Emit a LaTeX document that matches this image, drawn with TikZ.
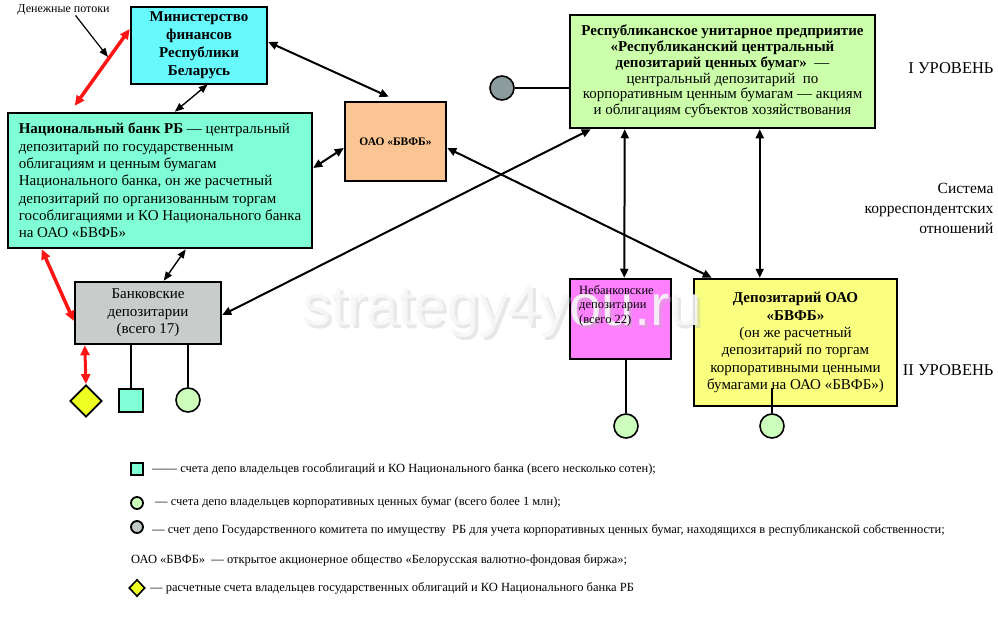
\documentclass[tikz,border=0pt]{standalone}
\usepackage{fontspec}
\setmainfont{Liberation Serif}
\newfontfamily\wmfont{Liberation Sans}
\usetikzlibrary{arrows.meta,calc,shapes.geometric}
\definecolor{cMin}{RGB}{102,250,255}
\definecolor{cNB}{RGB}{128,255,214}
\definecolor{cOAO}{RGB}{250,197,147}
\definecolor{cRep}{RGB}{204,255,170}
\definecolor{cBank}{RGB}{200,204,202}
\definecolor{cNon}{RGB}{255,128,255}
\definecolor{cBV}{RGB}{250,255,128}
\definecolor{cGray}{RGB}{140,156,156}
\definecolor{cGrayL}{RGB}{192,200,200}
\definecolor{cDia}{RGB}{238,255,34}
\definecolor{cCirc}{RGB}{204,255,187}
\definecolor{cRed}{RGB}{255,20,20}
\tikzset{
  box/.style={draw, line width=2.5pt, inner sep=0pt, font=\fontsize{15}{17.5}\selectfont},
  dbl/.style={line width=2pt, {Triangle[length=9pt,width=8pt]}-{Triangle[length=9pt,width=8pt]}},
  dblthin/.style={line width=1.4pt, {Triangle[length=9pt,width=7pt]}-{Triangle[length=9pt,width=7pt]}},
  redarr/.style={draw=cRed, line width=3.5pt, {Triangle[length=10pt,width=9pt]}-{Triangle[length=10pt,width=9pt]}},
  single/.style={line width=1.2pt, -{Triangle[length=9pt,width=7pt]}},
  plain/.style={line width=2pt},
  plainthin/.style={line width=1.1pt},
  acct/.style={circle, draw, line width=1.6pt, fill=cCirc, minimum size=24pt, inner sep=0pt},
  lvl/.style={anchor=east, font=\fontsize{16.5}{20}\selectfont, align=right},
  legtxt/.style={anchor=west, font=\fontsize{12.5}{14}\selectfont, inner sep=0pt},
  wmark/.style={font=\wmfont\fontsize{58}{62}\selectfont},
}
\begin{document}
\begin{tikzpicture}[x=1pt,y=-1pt]
\useasboundingbox (0,0) rectangle (998,624);

% boxes
\node[box, fill=cMin, minimum width=136pt, minimum height=77pt, align=center,
      font=\bfseries\fontsize{15}{18}\selectfont] (min) at (199,45.5)
  {Министерство\\финансов\\Республики\\Беларусь};
\node[box, fill=cNB, minimum width=304pt, minimum height=135pt, align=left,
      font=\fontsize{15}{17.3}\selectfont] (nb) at (160,180.5)
  {\textbf{Национальный банк РБ} — центральный\\депозитарий по государственным\\облигациям и ценным бумагам\\Национального банка, он же расчетный\\депозитарий по организованным торгам\\гособлигациями и КО Национального банка\\на ОАО «БВФБ»};
\node[box, fill=cOAO, minimum width=101pt, minimum height=79pt,
      font=\bfseries\fontsize{11.5}{13}\selectfont] (oao) at (395.5,141.5) {ОАО «БВФБ»};
\node[box, fill=cRep, minimum width=305pt, minimum height=113pt, align=center,
      font=\fontsize{15}{15.8}\selectfont] (rep) at (722.5,71.5)
  {\textbf{Республиканское унитарное предприятие}\\\textbf{«Республиканский центральный}\\\textbf{депозитарий ценных бумаг»} \ —\\центральный депозитарий \ по\\корпоративным ценным бумагам — акциям\\и облигациям субъектов хозяйствования};
\node[box, fill=cBank, minimum width=146pt, minimum height=62pt, align=center,
      font=\fontsize{15}{17.5}\selectfont] (banks) at (148,313)
  {Банковские\\депозитарии\\(всего 17)};
\node[box, fill=cNon, minimum width=101pt, minimum height=80pt] (non) at (620.5,319) {};
\node[box, fill=cBV, minimum width=203pt, minimum height=127pt, align=center,
      font=\fontsize{15}{17.3}\selectfont] (bv) at (795.5,342.5)
  {\textbf{Депозитарий ОАО}\\\textbf{«БВФБ»}\\(он же расчетный\\депозитарий по торгам\\корпоративными ценными\\бумагами на ОАО «БВФБ»)};

% money flow label
\node[font=\fontsize{12}{14}\selectfont, inner sep=1pt] (money) at (63.5,10) {Денежные потоки};
\coordinate (mtip) at (108,57);
\draw[single] ([xshift=12pt,yshift=1pt]money.south) -- (mtip);

% connectors
\draw[redarr] ([yshift=16.5pt]min.west) -- ([xshift=68pt,yshift=6pt]nb.north west);
\draw[dblthin] ([xshift=78pt,yshift=1pt]min.south west) -- ([xshift=168pt]nb.north west);
\draw[dbl] ([yshift=3.5pt]min.east) -- ([xshift=45pt,yshift=4pt]oao.north west);
\draw[dbl] ([yshift=12.5pt]nb.east) -- ([yshift=-6.5pt]oao.west);
\draw[dbl] ([yshift=-6.5pt]oao.east) -- ([xshift=19pt]bv.north west);
\draw[dbl] ([yshift=-2pt]banks.east) -- ([xshift=22pt]rep.south west);
\draw[dblthin] ([xshift=179pt]nb.south west) -- ([xshift=90pt]banks.north west);
\draw[redarr] ([xshift=35pt]nb.south west) -- ([yshift=-8pt]banks.west);
\draw[dbl] ([xshift=56pt]rep.south west) -- ([xshift=55.5pt]non.north west);
\draw[dbl] ([xshift=191pt]rep.south west) -- ([xshift=67pt]bv.north west);

% account symbols
\node[acct, fill=cGray] (gc) at (502,88) {};
\draw[plain] (gc.east) -- (gc.east -| rep.west);

\node[diamond, draw, line width=1.8pt, fill=cDia, minimum width=32pt, minimum height=32pt, inner sep=0pt] (d1) at (86,401) {};
\draw[redarr, line width=3pt] ([xshift=11pt]banks.south west) -- (d1.north);
\node[draw, line width=1.8pt, fill=cNB, minimum width=24pt, minimum height=23pt, inner sep=0pt] (sq1) at (131,400.5) {};
\draw[plain] (sq1.north |- banks.south) -- (sq1.north);
\node[acct] (c1) at (188,400) {};
\draw[plainthin] (c1.north |- banks.south) -- (c1.north);

\node[acct] (c2) at (626,426) {};
\draw[plain] (c2.north |- non.south) -- (c2.north);
\node[acct] (c3) at (772,426) {};
\draw[plainthin] ($(c3.north |- bv.south)+(0,-19)$) -- (c3.north);

% level labels
\node[lvl] (l1) at (997,68) {I УРОВЕНЬ};
\node[lvl, font=\fontsize{15.5}{20}\selectfont] (sys) at (997,208) {Система\\корреспондентских\\отношений};
\node[lvl] (l2) at (997,370) {II УРОВЕНЬ};

% legend
\node[draw, line width=1.5pt, fill=cNB, minimum size=12pt, inner sep=0pt] (lg1) at (137,469) {};
\node[legtxt] (lt1) at (152,469) {—— счета депо владельцев гособлигаций и КО Национального банка (всего несколько сотен);};
\node[circle, draw, line width=1.8pt, fill=cCirc, minimum size=12pt, inner sep=0pt] (lg2) at (137,503) {};
\node[legtxt] (lt2) at (155,502) {— счета депо владельцев корпоративных ценных бумаг (всего более 1 млн);};
\node[circle, draw, line width=1.8pt, fill=cGrayL, minimum size=12pt, inner sep=0pt] (lg3) at (137,527) {};
\node[legtxt] (lt3) at (152,530) {— счет депо Государственного комитета по имуществу \ РБ для учета корпоративных ценных бумаг, находящихся в республиканской собственности;};
\node[legtxt] (lt4) at (131,560) {ОАО «БВФБ» \ — открытое акционерное общество «Белорусская валютно-фондовая биржа»;};
\node[diamond, draw, line width=1.6pt, fill=cDia, minimum width=16pt, minimum height=17pt, inner sep=0pt] (lg5) at (137,588) {};
\node[legtxt] (lt5) at (150,588) {— расчетные счета владельцев государственных облигаций и КО Национального банка РБ};

% watermark
\node[wmark, text=gray!55, opacity=0.35] (wms) at (505,315) {strategy4you.ru};
\node[wmark, text=gray!6, opacity=0.9] (wm) at (502,312) {strategy4you.ru};

% non-bank text over the watermark
\node[anchor=north west, inner sep=0pt, align=left, font=\fontsize{12.5}{14.5}\selectfont] (nontxt)
  at (579,285) {Небанковские\\депозитарии\\(всего 22)};
\end{tikzpicture}
\end{document}
